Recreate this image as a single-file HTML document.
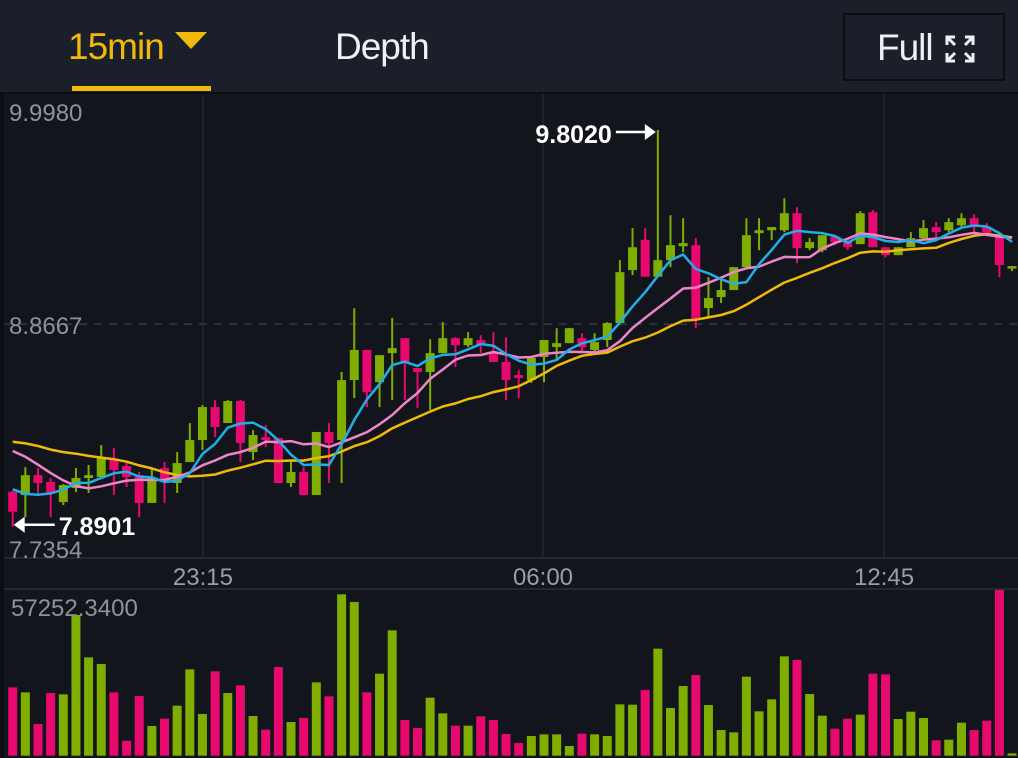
<!DOCTYPE html>
<html><head><meta charset="utf-8"><style>
html,body{margin:0;padding:0;background:#0b0d11;}
#root{position:relative;width:1018px;height:758px;overflow:hidden;background:#12151c;font-family:"Liberation Sans",sans-serif;}
#hdr{position:absolute;left:0;top:0;width:1018px;height:92px;background:#1b1f29;}
.tab{position:absolute;top:27px;font-size:37px;letter-spacing:-1px;line-height:40px;}
svg{position:absolute;left:0;top:0;}
</style></head><body>
<div id="root">
 <div id="hdr">
  <div class="tab" style="left:68px;color:#f0b90b">15min <span style="display:inline-block;width:0;height:0;border-left:16px solid transparent;border-right:16px solid transparent;border-top:17px solid #f0b90b;vertical-align:10px;margin-left:2px"></span></div>
  <div style="position:absolute;left:72px;top:86px;width:139px;height:5px;background:#f0b90b"></div>
  <div class="tab" style="left:335px;color:#eef0f3">Depth</div>
  <div style="position:absolute;left:843px;top:13px;width:158px;height:64px;border:2px solid #0c0e12;background:#1b1f29">
   <span style="position:absolute;left:32px;top:13px;font-size:37px;line-height:40px;color:#eef0f3;letter-spacing:-1px">Full</span>
   <svg style="left:100px;top:20px" width="30" height="28" viewBox="0 0 30 28">
    <g stroke="#eef0f3" stroke-width="3" fill="none"><path d="M2 10V2h8M20 2h8v8M28 18v8h-8M10 26H2v-8M3 3l7 7M27 3l-7 7M27 25l-7-7M3 25l7-7"/></g>
   </svg>
  </div>
 </div>
 <svg id="chart" width="1018" height="758" style="top:0"></svg>
</div>
<script>
const prevCloses=[8.30,8.36,8.40,8.33,8.28,8.35,8.38,8.32,8.37,8.36,8.42,8.48,8.46,8.44,8.40,8.25,8.12,8.02,8.00];
const opens=[8.059,8.043,8.139,8.106,8.009,8.077,8.125,8.130,8.212,8.183,8.139,8.005,8.173,8.101,8.202,8.308,8.467,8.390,8.496,8.250,8.322,8.318,8.101,8.154,8.043,8.347,8.308,8.597,8.742,8.587,8.727,8.799,8.655,8.636,8.727,8.799,8.765,8.790,8.727,8.684,8.621,8.597,8.708,8.756,8.775,8.799,8.742,8.790,8.872,9.127,9.273,9.095,9.175,9.242,9.247,8.944,8.997,9.031,9.141,9.305,9.319,9.319,9.401,9.233,9.223,9.286,9.262,9.252,9.406,9.237,9.199,9.237,9.281,9.334,9.319,9.343,9.377,9.334,9.286,9.136];
const closes=[7.963,8.139,8.101,8.053,8.091,8.125,8.139,8.221,8.164,8.130,8.005,8.125,8.106,8.197,8.308,8.467,8.371,8.496,8.294,8.332,8.308,8.101,8.154,8.043,8.347,8.294,8.597,8.742,8.539,8.717,8.751,8.679,8.636,8.727,8.799,8.765,8.799,8.765,8.684,8.597,8.607,8.703,8.790,8.775,8.847,8.756,8.780,8.872,9.117,9.237,9.095,9.175,9.247,9.257,8.886,8.992,9.031,9.141,9.295,9.319,9.334,9.401,9.233,9.262,9.295,9.262,9.237,9.401,9.237,9.199,9.237,9.281,9.329,9.310,9.358,9.377,9.334,9.305,9.151,9.146];
const highs=[8.062,8.178,8.173,8.125,8.096,8.173,8.188,8.284,8.269,8.197,8.154,8.173,8.202,8.250,8.390,8.477,8.501,8.501,8.501,8.356,8.380,8.318,8.212,8.178,8.347,8.390,8.636,8.943,8.742,8.717,8.896,8.799,8.655,8.794,8.876,8.804,8.828,8.813,8.828,8.804,8.645,8.708,8.790,8.847,8.847,8.823,8.823,8.876,9.175,9.329,9.329,9.802,9.391,9.377,9.281,9.093,9.079,9.141,9.377,9.377,9.334,9.473,9.430,9.281,9.295,9.295,9.271,9.411,9.416,9.237,9.237,9.310,9.368,9.358,9.377,9.401,9.396,9.353,9.310,9.146];
const lows=[7.8901,7.937,8.043,7.937,7.995,8.058,8.053,8.130,8.043,8.082,7.937,8.005,8.005,8.053,8.202,8.260,8.322,8.390,8.202,8.212,8.274,8.101,8.082,8.043,8.043,8.101,8.101,8.510,8.467,8.467,8.501,8.501,8.462,8.452,8.727,8.660,8.756,8.727,8.684,8.501,8.510,8.583,8.587,8.693,8.775,8.727,8.732,8.756,8.872,9.103,9.095,9.095,9.141,9.213,8.847,8.900,8.968,9.031,9.141,9.223,9.271,9.310,9.160,9.223,9.213,9.247,9.223,9.252,9.237,9.189,9.199,9.242,9.271,9.286,9.310,9.334,9.310,9.295,9.093,9.122];
const volumes=[23616,21888,10944,21658,21197,48614,33984,31680,21888,5184,20621,10253,12787,17280,29837,14400,29146,21658,24307,13709,8986,30643,11635,13018,25344,20506,55757,53107,21888,28339,43315,12326,9562,20045,14630,10368,10368,13594,12326,7488,4378,6797,7373,7373,3341,7603,7373,6797,17741,17626,22694,36979,16474,24077,27878,17510,8870,8064,27302,15322,19469,34330,33062,21312,13824,9331,12787,14170,28339,28109,12672,15206,13018,5299,5530,11405,8870,12096,57252,806];
const priceTicks=["9.9980","8.8667","7.7354"];
const timeLabels=["23:15","06:00","12:45"];
const timeIndex=[15.04,41.92,68.88];
const maPeriods=[5,10,20];
const maxVolLabel="57252.3400";

const NS="http://www.w3.org/2000/svg";
const svg=document.getElementById('chart');
function mk(tag,attrs,parent){const e=document.createElementNS(NS,tag);for(const k in attrs)e.setAttribute(k,attrs[k]);(parent||svg).appendChild(e);return e;}
const pMin=7.7354,pMax=9.998,yTop=89.3,yBot=558.9;
const y=p=>yBot-(p-pMin)/(pMax-pMin)*(yBot-yTop);
const x=i=>12.7+i*12.65;
const vBot=755.7,vTop=590;
const vMax=Math.max(...volumes);
const vy=v=>vBot-v/vMax*(vBot-vTop);
const GREEN="#7fad00",PINK="#e8096f";
const FONT='Liberation Sans, sans-serif';

let e;
e=mk('rect',{x:0,y:92,width:1018,height:2,fill:'#0c0e12'});


e=mk('line',{x1:4,y1:558,x2:1018,y2:558,stroke:'#2a2e37','stroke-width':1.5});


e=mk('line',{x1:4,y1:589,x2:1018,y2:589,stroke:'#2a2e37','stroke-width':1.5});


e=mk('rect',{x:0,y:92,width:4,height:666,fill:'#0b0d11'});


timeIndex.forEach((ti,k)=>{
  const g=mk('line',{x1:x(ti),y1:94,x2:x(ti),y2:558,stroke:'#262a33','stroke-width':1.2});
  
  
  const t=mk('text',{x:x(ti),y:585,'text-anchor':'middle',fill:'#9a9ea6','font-size':24,'font-family':FONT});
  t.textContent=timeLabels[k];
  
  
});
e=mk('line',{x1:4,y1:y(8.8667),x2:1018,y2:y(8.8667),stroke:'#3a3e47','stroke-width':1.2,'stroke-dasharray':'8 7'});



for(let i=0;i<opens.length;i++){
  const up=closes[i]>=opens[i],c=up?GREEN:PINK;
  const w=mk('line',{x1:x(i),x2:x(i),y1:y(highs[i]),y2:y(lows[i]),stroke:c,'stroke-width':2});
  
  
  const t=Math.min(y(opens[i]),y(closes[i])),h=Math.max(2.5,Math.abs(y(opens[i])-y(closes[i])));
  const b=mk('rect',{x:x(i)-4.5,y:t,width:9,height:h,fill:c});
  
  
  const v=mk('rect',{x:x(i)-4.5,y:vy(volumes[i]),width:9,height:vBot-vy(volumes[i]),fill:c});
  
  
}
const all=prevCloses.concat(closes),off=prevCloses.length;
const maColors=["#22aee6","#ef85c9","#f0b90b"];
const maNames=["ma5-line","ma10-line","ma20-line"];
[2,1,0].forEach(k=>{
  const n=maPeriods[k];let pts=[];
  for(let i=0;i<closes.length;i++){let s=0;for(let j=0;j<n;j++)s+=all[off+i-j];pts.push(x(i).toFixed(1)+','+y(s/n).toFixed(1));}
  const l=mk('polyline',{points:pts.join(' '),fill:'none',stroke:maColors[k],'stroke-width':2.5,'stroke-linejoin':'round'});
  
  
});
[[priceTicks[0],121],[priceTicks[1],y(8.8667)+10],[priceTicks[2],558]].forEach(([s,yy])=>{
  const t=mk('text',{x:9,y:yy,fill:'#8e939b','font-size':24,'font-family':FONT});
  t.textContent=s;
  
  
});
e=mk('text',{x:11,y:616,fill:'#8e939b','font-size':24,'font-family':FONT});
e.textContent=maxVolLabel;


const hiIdx=highs.indexOf(Math.max(...highs)),loIdx=lows.indexOf(Math.min(...lows));
const hy=y(highs[hiIdx]),ly=y(lows[loIdx]);
let g=mk('g',{});


mk('line',{x1:x(hiIdx)-42,y1:hy+2,x2:x(hiIdx)-8,y2:hy+2,stroke:'#fff','stroke-width':2.5},g);
mk('path',{d:`M${x(hiIdx)-2} ${hy+2} l-11 -8 v16 z`,fill:'#fff'},g);
let tx=mk('text',{x:x(hiIdx)-46,y:hy+13,'text-anchor':'end',fill:'#fff','font-size':25,'font-weight':'bold','font-family':FONT},g);
tx.textContent=highs[hiIdx].toFixed(4);
g=mk('g',{});


mk('line',{x1:x(loIdx)+8,y1:ly-2,x2:x(loIdx)+42,y2:ly-2,stroke:'#fff','stroke-width':2.5},g);
mk('path',{d:`M${x(loIdx)+1} ${ly-2} l11 -8 v16 z`,fill:'#fff'},g);
tx=mk('text',{x:x(loIdx)+46,y:ly+8,fill:'#fff','font-size':25,'font-weight':'bold','font-family':FONT},g);
tx.textContent=lows[loIdx].toFixed(4);
</script>
</body></html>
